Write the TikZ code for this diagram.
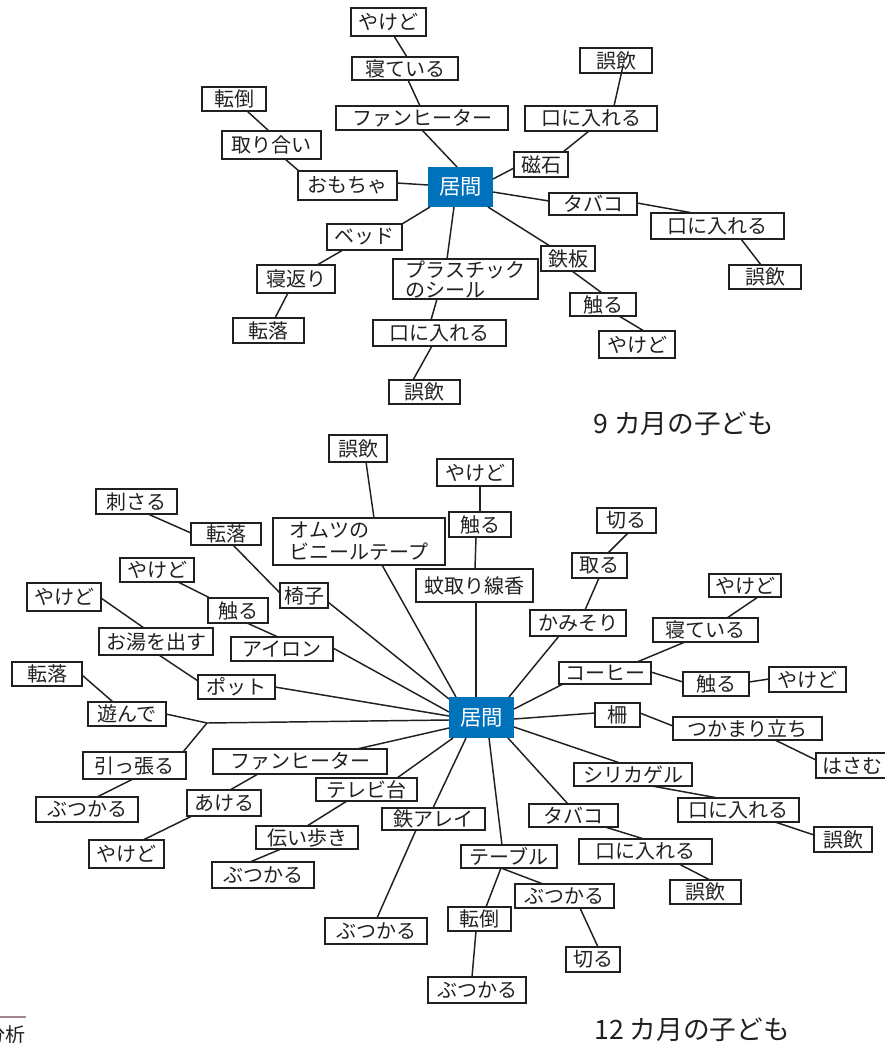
\documentclass[tikz,border=0pt]{standalone}
\usepackage{fontspec}
\setmainfont{Noto Sans CJK JP}
\usetikzlibrary{calc}
\definecolor{ink}{HTML}{231F20}
\definecolor{hub}{HTML}{0072BC}
\definecolor{rulecol}{HTML}{A3868F}

\tikzset{
  box/.style={draw=ink, line width=1.1pt, inner sep=0pt, outer sep=0pt, text=ink,
    font=\fontsize{15}{16}\selectfont},
  hubbox/.style={fill=hub, draw=none, text=white, font=\fontsize{16}{17}\selectfont},
  conn/.style={draw=ink, line width=1.1pt},
  caption/.style={text=ink, font=\fontsize{20}{22}\selectfont, anchor=west, inner sep=0pt},
}
% box given by its corners (px): name, x1, y1, x2, y2, text
\newcommand\bx[7][]{\node[box,#1,minimum width={(#5-#3)*0.75pt},minimum height={(#6-#4)*0.75pt}]
  (#2) at ({(#3+#5)/2},{(#4+#6)/2}) {#7};}
% connector between two boxes, ends given as offsets from each box's top-left corner
\newcommand\lnk[6]{\draw[conn] ($(#1.north west)+(#2,#3)$) -- ($(#4.north west)+(#5,#6)$);}

\begin{document}
\begin{tikzpicture}[x=0.75pt,y=-0.75pt]
\clip (0,0) rectangle (885,1043);
\useasboundingbox (0,0) rectangle (885,1043);

% ---------- 9 months ----------
\bx[hubbox]{aIm}{428}{167}{493}{207}{居間}
\bx{aYk}{351}{8}{426}{36}{やけど}
\bx{aNe}{352}{57}{458}{80}{寝ている}
\bx{aFh}{336}{106}{508}{130}{ファンヒーター}
\bx{aTt}{202}{87}{266}{111}{転倒}
\bx{aTr}{222}{131}{321}{159}{取り合い}
\bx{aOm}{298}{171}{397}{200}{おもちゃ}
\bx{aGo1}{580}{48}{652}{73}{誤飲}
\bx{aKu1}{525}{106}{657}{131}{口に入れる}
\bx{aJi}{514}{152}{568}{177}{磁石}
\bx{aTb}{549}{193}{637}{215}{タバコ}
\bx{aKu2}{651}{213}{784}{239}{口に入れる}
\bx{aGo2}{729}{265}{801}{289}{誤飲}
\bx{aTp}{541}{246}{595}{271}{鉄板}
\bx{aSa}{570}{293}{636}{316}{触る}
\bx{aYk2}{599}{331}{675}{358}{やけど}
\bx{aBd}{327}{224}{402}{250}{ベッド}
\bx{aNg}{257}{265}{335}{293}{寝返り}
\bx{aTk}{233}{318}{304}{343}{転落}
\bx[align=left,font=\fontsize{15}{15}\selectfont]{aPl}{393}{259}{538}{299}{プラスチック\\のシール}
\bx{aKu3}{373}{320}{506}{346}{口に入れる}
\bx{aGo3}{389}{380}{460}{404}{誤飲}
\node[caption] (capA) at (593,424) {9 カ月の子ども};

\lnk{aYk}{43}{28}{aNe}{55}{0}
\lnk{aNe}{56}{23}{aFh}{84}{0}
\lnk{aFh}{86}{24}{aIm}{29}{0}
\lnk{aTt}{45}{24}{aTr}{47}{0}
\lnk{aTr}{63}{28}{aOm}{1}{0}
\lnk{aOm}{99}{12}{aIm}{0}{18}
\lnk{aGo1}{43}{18}{aKu1}{89}{0}
\lnk{aKu1}{64}{25}{aJi}{49}{0}
\lnk{aJi}{0}{16}{aIm}{65}{12}
\lnk{aIm}{65}{25}{aTb}{0}{8}
\lnk{aTb}{88}{10}{aKu2}{42}{0}
\lnk{aKu2}{90}{26}{aGo2}{32}{0}
\lnk{aIm}{60}{40}{aTp}{9}{0}
\lnk{aTp}{31}{25}{aSa}{32}{0}
\lnk{aSa}{49}{23}{aYk2}{45}{0}
\lnk{aIm}{2}{40}{aBd}{75}{0}
\lnk{aBd}{16}{26}{aNg}{60}{0}
\lnk{aNg}{31}{28}{aTk}{42}{0}
\lnk{aIm}{26}{40}{aPl}{54}{0}
\lnk{aPl}{44}{40}{aKu3}{58}{0}
\lnk{aKu3}{59}{26}{aGo3}{24}{0}

% ---------- 12 months ----------
\bx[hubbox]{bIm}{449}{697}{514}{738}{居間}
\bx{bGo0}{329}{435}{387}{462}{誤飲}
\bx[align=left,font=\fontsize{15}{16.5}\selectfont]{bOm}{273}{518}{445}{565}{オムツの\\ビニールテープ}
\bx{bYk0}{437}{459}{513}{486}{やけど}
\bx{bSa0}{449}{512}{511}{537}{触る}
\bx{bKa}{416}{569}{533}{602}{蚊取り線香}
\bx{bSs}{96}{489}{177}{514}{刺さる}
\bx{bTk1}{191}{523}{261}{545}{転落}
\bx{bIs}{280}{583}{328}{608}{椅子}
\bx{bYk1}{120}{558}{194}{582}{やけど}
\bx{bSa1}{208}{598}{268}{623}{触る}
\bx{bAi}{231}{637}{333}{661}{アイロン}
\bx{bYk2}{27}{583}{101}{611}{やけど}
\bx{bOy}{99}{628}{213}{655}{お湯を出す}
\bx{bPo}{198}{675}{275}{699}{ポット}
\bx{bTk2}{12}{662}{82}{686}{転落}
\bx{bAs}{88}{702}{166}{726}{遊んで}
\bx{bHi}{83}{752}{186}{779}{引っ張る}
\bx{bBu1}{36}{797}{138}{822}{ぶつかる}
\bx{bFh}{213}{749}{387}{774}{ファンヒーター}
\bx{bAk}{187}{790}{261}{816}{あける}
\bx{bYk3}{89}{840}{164}{868}{やけど}
\bx{bTv}{316}{778}{417}{801}{テレビ台}
\bx{bTa}{256}{826}{358}{849}{伝い歩き}
\bx{bBu2}{212}{862}{314}{888}{ぶつかる}
\bx{bTe}{382}{808}{485}{830}{鉄アレイ}
\bx{bBu3}{325}{918}{427}{944}{ぶつかる}
\bx{bKi1}{597}{508}{656}{533}{切る}
\bx{bTo}{572}{553}{627}{578}{取る}
\bx{bKm}{530}{610}{626}{636}{かみそり}
\bx{bYk4}{709}{574}{781}{597}{やけど}
\bx{bNe}{653}{618}{758}{642}{寝ている}
\bx{bCo}{559}{662}{651}{684}{コーヒー}
\bx{bSa2}{683}{672}{749}{696}{触る}
\bx{bYk5}{769}{667}{846}{692}{やけど}
\bx{bSk}{595}{703}{640}{727}{柵}
\bx{bTs}{673}{717}{822}{740}{つかまり立ち}
\bx{bHs}{816}{753}{888}{778}{はさむ}
\bx{bSi}{574}{763}{692}{786}{シリカゲル}
\bx{bKu1}{678}{798}{799}{822}{口に入れる}
\bx{bGo1}{814}{827}{872}{852}{誤飲}
\bx{bTb}{529}{804}{618}{827}{タバコ}
\bx{bKu2}{579}{839}{712}{864}{口に入れる}
\bx{bGo2}{670}{880}{741}{904}{誤飲}
\bx{bTl}{461}{845}{557}{868}{テーブル}
\bx{bTt}{448}{907}{511}{931}{転倒}
\bx{bBu4}{515}{884}{614}{908}{ぶつかる}
\bx{bKi2}{566}{947}{620}{972}{切る}
\bx{bBu5}{428}{977}{526}{1003}{ぶつかる}
\coordinate (J) at (207,723);
\node[caption] (capB) at (594,1030) {12 カ月の子ども};

\lnk{bGo0}{37}{27}{bOm}{101}{0}
\lnk{bOm}{109}{47}{bIm}{7}{0}
\lnk{bYk0}{43}{27}{bSa0}{31}{0}
\lnk{bSa0}{27}{25}{bKa}{59}{0}
\lnk{bKa}{60}{33}{bIm}{27}{0}
\lnk{bSs}{52}{25}{bTk1}{0}{10}
\lnk{bTk1}{42}{22}{bIs}{0}{10}
\lnk{bIs}{48}{19}{bIm}{0}{2}
\lnk{bYk1}{58}{24}{bSa1}{2}{0}
\lnk{bSa1}{39}{25}{bAi}{47}{0}
\lnk{bAi}{102}{11}{bIm}{0}{15}
\lnk{bYk2}{74}{15}{bOy}{45}{0}
\lnk{bOy}{60}{27}{bPo}{0}{6}
\lnk{bPo}{77}{12}{bIm}{0}{19}
\lnk{bTk2}{70}{13}{bAs}{25}{0}
\draw[conn] ($(bAs.north west)+(78,12)$) -- (J);
\draw[conn] (J) -- ($(bIm.north west)+(0,23)$);
\draw[conn] (J) -- ($(bHi.north west)+(100,0)$);
\lnk{bHi}{50}{27}{bBu1}{61}{0}
\lnk{bIm}{0}{31}{bFh}{144}{0}
\lnk{bFh}{45}{25}{bAk}{43}{0}
\lnk{bAk}{5}{26}{bYk3}{54}{0}
\lnk{bIm}{4}{41}{bTv}{81}{0}
\lnk{bTv}{31}{23}{bTa}{51}{0}
\lnk{bTa}{25}{23}{bBu2}{38}{0}
\lnk{bIm}{17}{41}{bTe}{51}{0}
\lnk{bTe}{34}{22}{bBu3}{52}{0}
\lnk{bKi1}{31}{25}{bTo}{36}{0}
\lnk{bTo}{27}{25}{bKm}{55}{0}
\lnk{bKm}{29}{26}{bIm}{60}{0}
\lnk{bYk4}{49}{23}{bNe}{74}{0}
\lnk{bNe}{32}{24}{bCo}{78}{0}
\lnk{bCo}{4}{22}{bIm}{65}{12}
\lnk{bCo}{92}{10}{bSa2}{0}{10}
\lnk{bSa2}{66}{10}{bYk5}{0}{12}
\lnk{bIm}{65}{22}{bSk}{0}{10}
\lnk{bSk}{45}{10}{bTs}{0}{9}
\lnk{bTs}{102}{23}{bHs}{0}{7}
\lnk{bIm}{65}{30}{bSi}{46}{0}
\lnk{bSi}{78}{23}{bKu1}{40}{0}
\lnk{bKu1}{97}{24}{bGo1}{0}{8}
\lnk{bIm}{59}{41}{bTb}{39}{0}
\lnk{bTb}{76}{23}{bKu2}{65}{0}
\lnk{bKu2}{100}{25}{bGo2}{40}{0}
\lnk{bIm}{40}{41}{bTl}{41}{0}
\lnk{bTl}{40}{23}{bTt}{38}{0}
\lnk{bTl}{40}{23}{bBu4}{28}{0}
\lnk{bBu4}{65}{24}{bKi2}{32}{0}
\lnk{bTt}{28}{24}{bBu5}{44}{0}

% ---------- running footer fragment ----------
\draw[rulecol, line width=1.5pt] (0,1017) -- (26,1017);
\node[text=ink, font=\fontsize{15}{16}\selectfont, anchor=east, inner sep=0pt] (foot) at (26,1035) {分析};
\end{tikzpicture}
\end{document}
